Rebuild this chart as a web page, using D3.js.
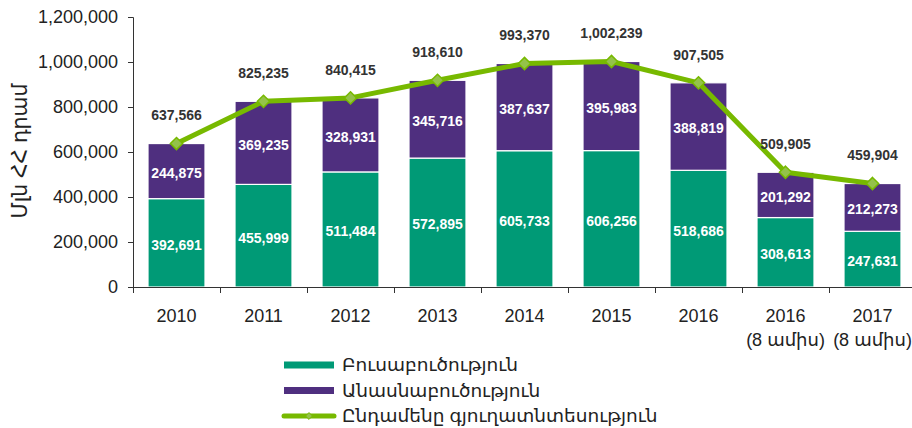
<!DOCTYPE html>
<html>
<head>
<meta charset="utf-8">
<script src="https://cdn.jsdelivr.net/npm/d3@7/dist/d3.min.js"></script>
<style>
  body { margin: 0; background: #fff; }
  svg text { font-family: "Liberation Sans", Arial, "DejaVu Sans", sans-serif; }
</style>
</head>
<body>
<svg id="svg1" width="912" height="428"></svg>
<script>
var svg = d3.select('#svg1');

// data
var years = ['2010', '2011', '2012', '2013', '2014', '2015', '2016', '2016\n(8 ամիս)', '2017\n(8 ամիս)'];
var cropValues = [392691, 455999, 511484, 572895, 605733, 606256, 518686, 308613, 247631];
var livestockValues = [244875, 369235, 328931, 345716, 387637, 395983, 388819, 201292, 212273];
var totalValues = [637566, 825235, 840415, 918610, 993370, 1002239, 907505, 509905, 459904];
var yTicks = [0, 200000, 400000, 600000, 800000, 1000000, 1200000];
var seriesNames = ['Բուսաբուծություն', 'Անասնաբուծություն', 'Ընդամենը գյուղատնտեսություն'];
var yTitle = 'Մլն ՀՀ դրամ';

var green = '#009a76', purple = '#4f2f7f', lime = '#77b900';

var padding = {l: 133, r: 916, t: 17, b: 287};

var x = d3.scaleBand()
    .domain(years)
    .range([padding.l, padding.r])
    .paddingInner(0.345)
    .paddingOuter(0.1725);

var y = d3.scaleLinear()
    .domain([0, 1200000])
    .range([padding.b, padding.t]);

var fmt = d3.format(',');

var rows = years.map(function(d, i) {
    return {year: d, crop: cropValues[i], live: livestockValues[i], total: totalValues[i]};
});

// stacked bars
var bars = svg.append('g').attr('class', 'bars');

bars.selectAll('rect.crop')
    .data(rows)
    .enter()
    .append('rect')
    .attr('class', 'crop')
    .attr('x', function(d) { return x(d.year); })
    .attr('y', function(d) { return y(d.crop); })
    .attr('width', x.bandwidth())
    .attr('height', function(d) { return y(0) - y(d.crop); })
    .style('fill', green)
    .style('stroke', '#fff')
    .style('stroke-width', 1.2);

bars.selectAll('rect.live')
    .data(rows)
    .enter()
    .append('rect')
    .attr('class', 'live')
    .attr('x', function(d) { return x(d.year); })
    .attr('y', function(d) { return y(d.crop + d.live); })
    .attr('width', x.bandwidth())
    .attr('height', function(d) { return y(d.crop) - y(d.crop + d.live); })
    .style('fill', purple)
    .style('stroke', '#fff')
    .style('stroke-width', 1.2);

// labels inside the bars
bars.selectAll('text.cropLabel')
    .data(rows)
    .enter()
    .append('text')
    .attr('class', 'cropLabel')
    .attr('x', function(d) { return x(d.year) + x.bandwidth() / 2; })
    .attr('y', function(d) { return (y(0) + y(d.crop)) / 2 + 2; })
    .attr('dy', '0.35em')
    .attr('text-anchor', 'middle')
    .style('font-size', '14px')
    .style('font-weight', 'bold')
    .style('fill', '#fff')
    .text(function(d) { return fmt(d.crop); });

bars.selectAll('text.liveLabel')
    .data(rows)
    .enter()
    .append('text')
    .attr('class', 'liveLabel')
    .attr('x', function(d) { return x(d.year) + x.bandwidth() / 2; })
    .attr('y', function(d) { return (y(d.crop) + y(d.crop + d.live)) / 2 + 2; })
    .attr('dy', '0.35em')
    .attr('text-anchor', 'middle')
    .style('font-size', '14px')
    .style('font-weight', 'bold')
    .style('fill', '#fff')
    .text(function(d) { return fmt(d.live); });

// axes
var yAxis = svg.append('g')
    .attr('class', 'y_axis')
    .attr('transform', 'translate(' + padding.l + ',0)')
    .call(d3.axisLeft(y).tickValues(yTicks).tickFormat(fmt).tickSize(5).tickPadding(10));
yAxis.selectAll('text').style('font-size', '18px').style('fill', '#222');
yAxis.selectAll('line, path').style('stroke', '#333');

var xAxis = svg.append('g')
    .attr('class', 'x_axis')
    .attr('transform', 'translate(0,' + padding.b + ')')
    .call(d3.axisBottom(x).tickSize(0).tickPadding(0));
xAxis.select('.domain').attr('d', 'M' + padding.l + ',0.5H912').style('stroke', '#333');
xAxis.selectAll('.tick text').remove();
xAxis.selectAll('.tick')
    .append('text')
    .style('font-size', '18px')
    .style('fill', '#222')
    .attr('text-anchor', 'middle')
    .each(function(d) {
        var parts = d.split('\n');
        var t = d3.select(this);
        parts.forEach(function(p, i) {
            t.append('tspan').attr('x', 0).attr('y', 35 + i * 24).text(p);
        });
    });

// ticks between the categories
svg.append('g')
    .selectAll('line')
    .data(years)
    .enter()
    .append('line')
    .attr('x1', function(d) { return Math.round(x(d) - x.step() * x.paddingInner() / 2) + 0.5; })
    .attr('x2', function(d) { return Math.round(x(d) - x.step() * x.paddingInner() / 2) + 0.5; })
    .attr('y1', padding.b)
    .attr('y2', padding.b + 6)
    .style('stroke', '#333');

// y axis title
svg.append('text')
    .attr('transform', 'translate(' + [27, 151] + ') rotate(270)')
    .attr('text-anchor', 'middle')
    .style('font-size', '20.5px')
    .style('fill', '#222')
    .text(yTitle);

// total line
var cx = function(d) { return x(d.year) + x.bandwidth() / 2; };
var line = d3.line()
    .x(cx)
    .y(function(d) { return y(d.total); });

svg.append('path')
    .datum(rows)
    .attr('d', line)
    .style('fill', 'none')
    .style('stroke', lime)
    .style('stroke-width', 5)
    .style('stroke-linejoin', 'round');

var diamond = d3.symbol().type(d3.symbolDiamond2).size(95);
svg.selectAll('path.marker')
    .data(rows)
    .enter()
    .append('path')
    .attr('class', 'marker')
    .attr('d', diamond)
    .attr('transform', function(d) { return 'translate(' + [cx(d), y(d.total)] + ')'; })
    .style('fill', '#94c24a')
    .style('stroke', lime)
    .style('stroke-width', 1.5);

svg.selectAll('text.total')
    .data(rows)
    .enter()
    .append('text')
    .attr('class', 'total')
    .attr('x', cx)
    .attr('y', function(d) { return y(d.total) - 28; })
    .attr('dy', '0.35em')
    .attr('text-anchor', 'middle')
    .style('font-size', '14px')
    .style('font-weight', 'bold')
    .style('fill', '#333')
    .text(function(d) { return fmt(d.total); });

// legend
var legend = svg.append('g')
    .attr('class', 'legend')
    .attr('transform', 'translate(284,365)');

var legendColors = [green, purple, lime];
var items = legend.selectAll('g')
    .data(seriesNames)
    .enter()
    .append('g')
    .attr('transform', function(d, i) { return 'translate(0,' + i * 25.5 + ')'; });

items.append('line')
    .attr('x1', 0).attr('x2', 50)
    .attr('y1', 0).attr('y2', 0)
    .style('stroke', function(d, i) { return legendColors[i]; })
    .style('stroke-width', function(d, i) { return i < 2 ? 7 : 5; })
    .style('stroke-linecap', function(d, i) { return i < 2 ? 'butt' : 'round'; });

items.filter(function(d, i) { return i === 2; })
    .append('path')
    .attr('d', d3.symbol().type(d3.symbolDiamond2).size(30))
    .attr('transform', 'translate(25,0)')
    .style('fill', '#94c24a')
    .style('stroke', lime);

items.append('text')
    .attr('x', 58)
    .attr('dy', '0.35em')
    .style('font-size', '18.5px')
    .style('fill', '#222')
    .text(function(d) { return d; });
</script>
</body>
</html>
